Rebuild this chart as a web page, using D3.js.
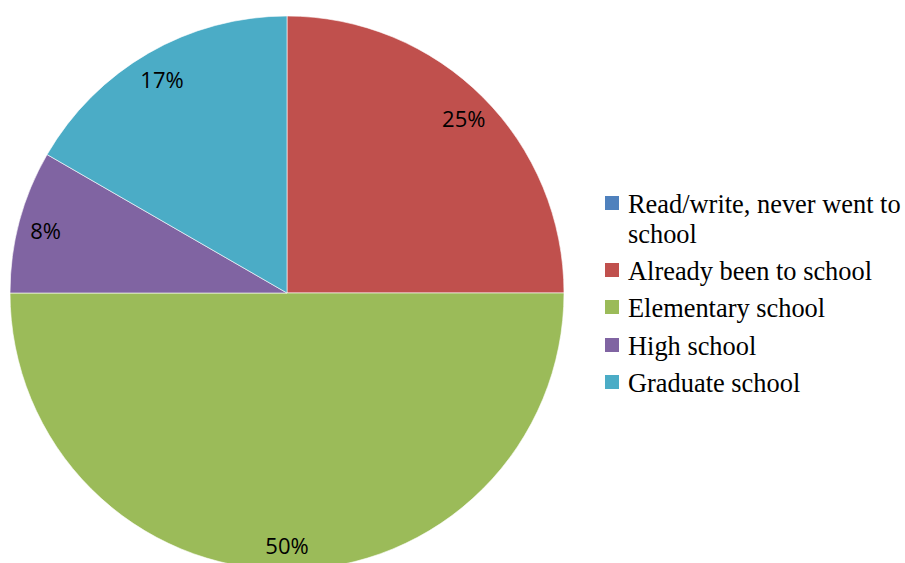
<!DOCTYPE html>
<html lang="en">
<head>
    <meta charset="UTF-8">
    <title>Schooling</title>
    <script src="https://d3js.org/d3.v7.min.js"></script>
    <style>
        body { margin: 0; background: #fff; }
    </style>
</head>
<body>
    <div id="chart"></div>
    <script>
        const categories = ["Read/write, never went to school", "Already been to school", "Elementary school", "High school", "Graduate school"]
        const legendLines = [["Read/write, never went to", "school"], ["Already been to school"], ["Elementary school"], ["High school"], ["Graduate school"]]
        const shares = [0, 25, 50, 8.33, 16.67]
        const colors = ["#4F81BD", "#C0504D", "#9BBB59", "#8064A2", "#4BACC6"]

        const width = 905
        const height = 563
        const cx = 287, cy = 293, radius = 277

        const svg = d3.select("#chart").append("svg")
            .attr("width", width)
            .attr("height", height)

        const pie = d3.pie().sort(null).value(d => d)
        const arcs = pie(shares).map((a, i) => Object.assign(a, {name: categories[i]}))
        const arc = d3.arc().innerRadius(0).outerRadius(radius)
        const labelArc = d3.arc().innerRadius(250).outerRadius(250)

        const g = svg.append("g").attr("transform", `translate(${cx},${cy})`)
        g.selectAll("path")
            .data(arcs)
            .enter().append("path")
            .attr("d", arc)
            .attr("fill", (d, i) => colors[i])
            .attr("stroke", "#fff")
            .attr("stroke-width", 0.6)

        g.selectAll("text")
            .data(arcs.filter(d => d.value > 0))
            .enter().append("text")
            .attr("transform", d => `translate(${labelArc.centroid(d)})`)
            .attr("text-anchor", "middle")
            .attr("dy", "0.5em")
            .attr("font-family", "'Open Sans', sans-serif")
            .attr("font-size", 22)
            .attr("fill", "#000")
            .text(d => Math.round(d.value) + "%")

        // legend
        const legend = svg.append("g").attr("transform", "translate(605,0)")
        const rowY = [213, 280, 317, 355, 392]
        legendLines.forEach((lines, i) => {
            const row = legend.append("g")
            row.append("rect")
                .attr("x", 0)
                .attr("y", rowY[i] - 17)
                .attr("width", 14)
                .attr("height", 14)
                .attr("fill", colors[i])
            lines.forEach((t, j) => {
                row.append("text")
                    .attr("x", 23)
                    .attr("y", rowY[i] + j * 30)
                    .attr("font-family", "'Liberation Serif', 'Times New Roman', serif")
                    .attr("font-size", 26.4)
                    .attr("fill", "#000")
                    .text(t)
            })
        })
    </script>
</body>
</html>
